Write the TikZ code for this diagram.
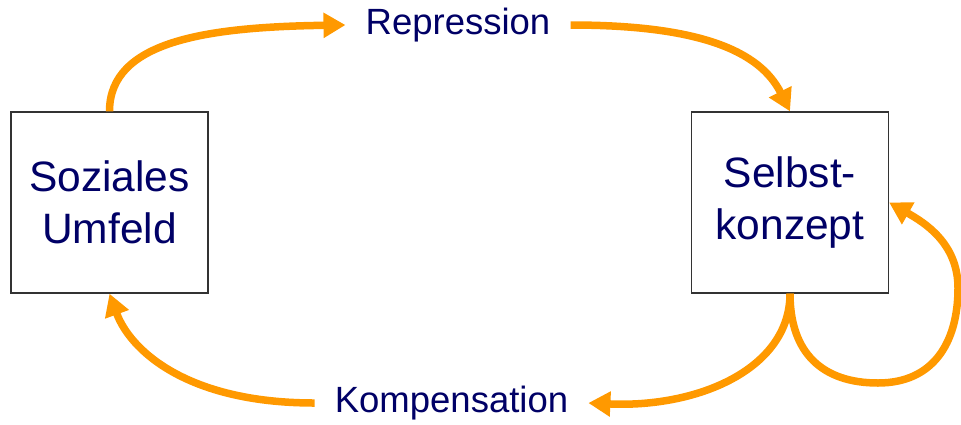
\documentclass[tikz,border=0pt]{standalone}
\usepackage{fontspec}
\setmainfont{Liberation Sans}
\usetikzlibrary{arrows.meta}
\definecolor{arr}{HTML}{FF9900}
\definecolor{txt}{HTML}{000066}
\begin{document}
\begin{tikzpicture}[x=1pt,y=-1pt,
  box/.style={draw=black!80,line width=1.3pt,minimum width=197pt,minimum height=181pt,
    align=center,text=txt,font=\fontsize{42.5}{52}\selectfont,inner sep=0pt},
  lab/.style={text=txt,font=\fontsize{36.5}{40}\selectfont,inner xsep=20pt,inner ysep=0pt},
  flow/.style={draw=arr,line width=7.5pt,-{Triangle[length=22pt,width=24pt]}}]
\useasboundingbox (0,0) rectangle (961,424);
\node[box] (L) at (109.5,202.5) {Soziales\\Umfeld};
\node[box] (R) at (790,202.5) {Selbst-\\konzept};
\node[lab] (rep) at (458,25) {Repression};
\node[lab] (komp) at (451.5,403) {Kompensation};
\draw[flow] (L.north) .. controls +(0,-70) and +(-140,2) .. (rep.west);
\draw[flow] (rep.east) .. controls +(130,0) and +(-30,-60) .. (R.north);
\draw[flow] (R.south) .. controls +(0,75) and +(110,5) .. (komp.east);
\draw[flow] (komp.west) .. controls +(-130,0) and +(20,55) .. (L.south);
\draw[flow] (R.south) .. controls +(0,60) and +(-55,0) .. (878,383)
  .. controls +(55,0) and +(0,55) .. (958,288)
  .. controls +(0,-45) and +(35,20) .. (R.east);
\end{tikzpicture}
\end{document}
